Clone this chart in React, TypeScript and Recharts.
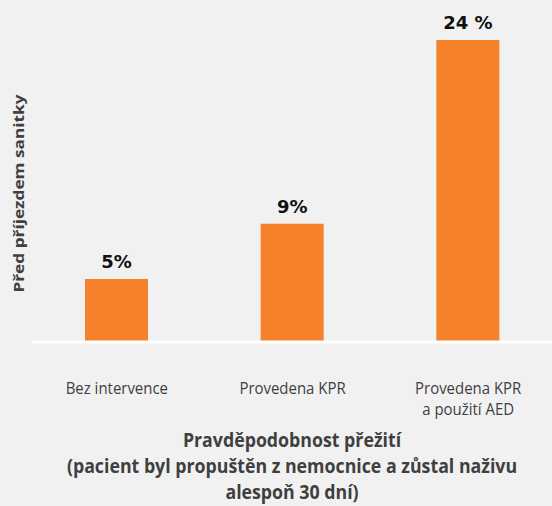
import { BarChart, Bar, XAxis, YAxis, LabelList } from "recharts";

const categories = ["Bez intervence", "Provedena KPR", "Provedena KPR\na použití AED"];
// bar heights as drawn in the original (the middle one sits a bit above 9)
const survival = [5, 9.4, 24];
const valueLabels = ["5%", "9%", "24 %"];
const yTitle = "Před příjezdem sanitky";
const xTitle = [
  "Pravděpodobnost přežití",
  "(pacient byl propuštěn z nemocnice a zůstal naživu",
  "alespoň 30 dní)",
];

const data = categories.map((name, i) => ({ name, value: survival[i], label: valueLabels[i] }));

const FONT = "'Open Sans', sans-serif";
const GRAY = "#3f3f3f";

// horizontal squeeze/stretch to match the original type widths
const TICK_SX = 0.88;
const TITLE_SX = 0.935;
const YTITLE_SX = 1.15;

const CategoryTick = (props: any) => {
  const { x, y, payload } = props;
  const lines = String(payload.value).split("\n");
  return (
    <g transform={`translate(${x},${y + 44}) scale(${TICK_SX},1)`}>
      <text x={0} y={0} textAnchor="middle" fill={GRAY} fontFamily={FONT} fontSize={17}>
        {lines.map((l, i) => (
          <tspan key={i} x={0} dy={i === 0 ? 0 : 21.5}>
            {l}
          </tspan>
        ))}
      </text>
    </g>
  );
};

const XTitle = (props: any) => {
  const { viewBox } = props;
  const y0 = viewBox.y + 105;
  return (
    <g transform={`translate(292,${y0}) scale(${TITLE_SX},1)`}>
      <text x={0} y={0} textAnchor="middle" fill={GRAY} fontFamily={FONT} fontWeight={700} fontSize={19}>
        {xTitle.map((l, i) => (
          <tspan key={i} x={0} dy={i === 0 ? 0 : 26}>
            {l}
          </tspan>
        ))}
      </text>
    </g>
  );
};

const YTitle = () => (
  <g transform={`translate(24, 193.5) rotate(-90) scale(${YTITLE_SX},1)`}>
    <text x={0} y={0} textAnchor="middle" fill={GRAY} fontFamily={FONT} fontWeight={700} fontSize={15}>
      {yTitle}
    </text>
  </g>
);

const ValueLabel = (props: any) => {
  const { x, y, width, value } = props;
  return (
    <text x={x + width / 2} y={y - 11} textAnchor="middle" fill="#111" fontFamily="'DejaVu Sans', sans-serif" fontWeight={700} fontSize={18}>
      {value}
    </text>
  );
};

export default function App() {
  return (
    <div style={{ position: "absolute", left: 0, top: 0, width: 552, height: 506, background: "#f1f1f1", overflow: "hidden" }}>
      <BarChart width={552} height={506} data={data} margin={{ top: 40, right: 0, bottom: 0, left: 0 }}>
        <YAxis width={32} domain={[0, 24]} tick={false} axisLine={false} tickLine={false} label={<YTitle />} />
        <XAxis
          dataKey="name"
          height={164}
          axisLine={{ stroke: "#ffffff", strokeWidth: 3 }}
          tickLine={false}
          tick={<CategoryTick />}
          interval={0}
          padding={{ left: -3, right: -4 }}
          label={<XTitle />}
        />
        <Bar dataKey="value" fill="#f5822a" barSize={63} isAnimationActive={false}>
          <LabelList dataKey="label" content={<ValueLabel />} />
        </Bar>
      </BarChart>
    </div>
  );
}
